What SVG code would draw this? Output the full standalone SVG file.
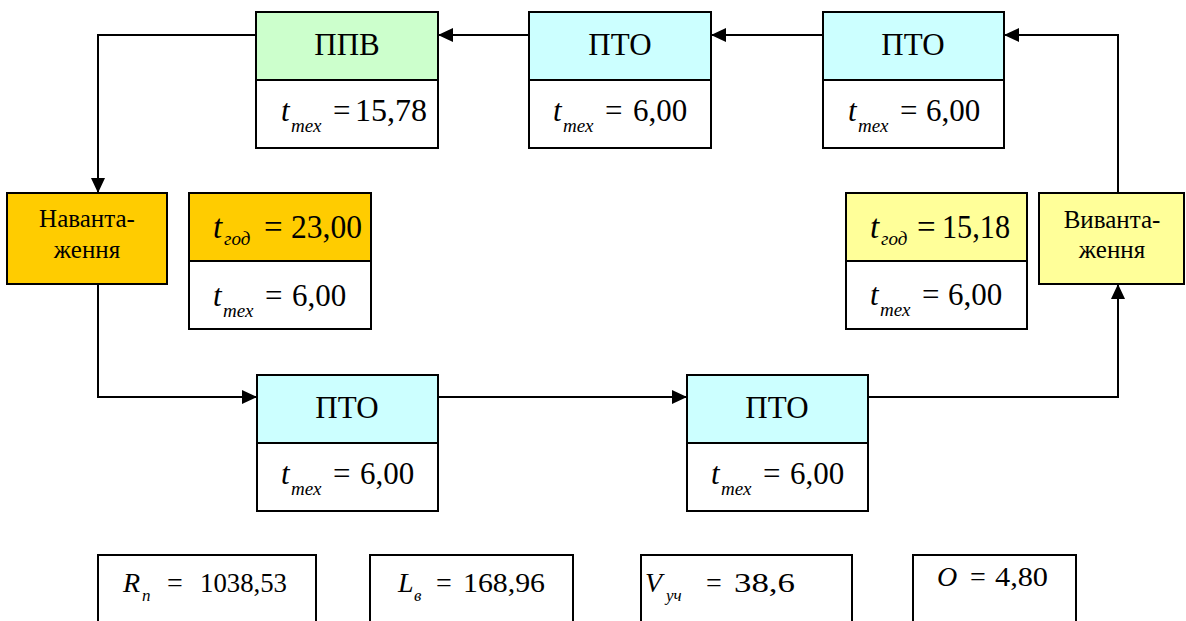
<svg xmlns="http://www.w3.org/2000/svg" width="1186" height="621" viewBox="0 0 1186 621">
<style>
.box{stroke:#000;stroke-width:2}
.w{fill:#fff}
.cy{fill:#CCFFFF}
.gr{fill:#CCFFCC}
.or{fill:#FFCC00}
.ye{fill:#FFFF99}
.con{fill:none;stroke:#000;stroke-width:2}
</style>
<defs>
<marker id="arr" markerWidth="15" markerHeight="14" refX="15" refY="7" orient="auto" markerUnits="userSpaceOnUse">
<path d="M0,0 L15,7 L0,14 z" fill="#000"/>
</marker>
</defs>
<g id="connectors">
<path class="con" d="M1118,193 V35 H1004" marker-end="url(#arr)"/>
<path class="con" d="M823,35 H711" marker-end="url(#arr)"/>
<path class="con" d="M529,35 H438" marker-end="url(#arr)"/>
<path class="con" d="M256,35 H98 V193" marker-end="url(#arr)"/>
<path class="con" d="M98,284 V397 H257" marker-end="url(#arr)"/>
<path class="con" d="M438,397 H687" marker-end="url(#arr)"/>
<path class="con" d="M868,397 H1118 V284" marker-end="url(#arr)"/>
</g>
<g id="ppv">
<rect class="box gr" x="256" y="12" width="182" height="68"/>
<rect class="box w" x="256" y="80" width="182" height="68"/>
<text font-family="Liberation Serif" font-size="31" text-anchor="middle" x="347" y="55">ППВ</text>
<text font-family="Liberation Serif" font-size="31" font-style="italic" x="281" y="121">t</text>
<text font-family="Liberation Serif" font-size="19" font-style="italic" x="291" y="132">тех</text>
<text font-family="Liberation Serif" font-size="31" x="333" y="121">=</text>
<text font-family="Liberation Serif" font-size="31" x="355" y="121" textLength="72" lengthAdjust="spacingAndGlyphs">15,78</text>
</g>
<g id="pto-top-mid">
<rect class="box cy" x="529" y="12" width="182" height="68"/>
<rect class="box w" x="529" y="80" width="182" height="68"/>
<text font-family="Liberation Serif" font-size="31" text-anchor="middle" x="620" y="55">ПТО</text>
<text font-family="Liberation Serif" font-size="31" font-style="italic" x="553" y="121">t</text>
<text font-family="Liberation Serif" font-size="19" font-style="italic" x="563" y="132">тех</text>
<text font-family="Liberation Serif" font-size="31" x="605" y="121">=</text>
<text font-family="Liberation Serif" font-size="31" x="633" y="121">6,00</text>
</g>
<g id="pto-top-right">
<rect class="box cy" x="823" y="12" width="181" height="68"/>
<rect class="box w" x="823" y="80" width="181" height="68"/>
<text font-family="Liberation Serif" font-size="31" text-anchor="middle" x="913" y="55">ПТО</text>
<text font-family="Liberation Serif" font-size="31" font-style="italic" x="848" y="121">t</text>
<text font-family="Liberation Serif" font-size="19" font-style="italic" x="858" y="132">тех</text>
<text font-family="Liberation Serif" font-size="31" x="900" y="121">=</text>
<text font-family="Liberation Serif" font-size="31" x="926" y="121">6,00</text>
</g>
<g id="loading">
<rect class="box or" x="7" y="193" width="160" height="91"/>
<text font-family="Liberation Serif" font-size="25" text-anchor="middle" x="87" y="227">Наванта-</text>
<text font-family="Liberation Serif" font-size="25" text-anchor="middle" x="87" y="258">ження</text>
</g>
<g id="tgod-left">
<rect class="box or" x="189" y="193" width="182" height="68"/>
<rect class="box w" x="189" y="261" width="182" height="68"/>
<text font-family="Liberation Serif" font-size="33" font-style="italic" x="213" y="238">t</text>
<text font-family="Liberation Serif" font-size="19" font-style="italic" x="224" y="245">год</text>
<text font-family="Liberation Serif" font-size="33" x="264" y="238">=</text>
<text font-family="Liberation Serif" font-size="33" x="291" y="238" textLength="71" lengthAdjust="spacingAndGlyphs">23,00</text>
<text font-family="Liberation Serif" font-size="31" font-style="italic" x="213" y="306">t</text>
<text font-family="Liberation Serif" font-size="19" font-style="italic" x="223" y="317">тех</text>
<text font-family="Liberation Serif" font-size="31" x="265" y="306">=</text>
<text font-family="Liberation Serif" font-size="31" x="292" y="306">6,00</text>
</g>
<g id="tgod-right">
<rect class="box ye" x="846" y="193" width="181" height="68"/>
<rect class="box w" x="846" y="261" width="181" height="68"/>
<text font-family="Liberation Serif" font-size="33" font-style="italic" x="870" y="238">t</text>
<text font-family="Liberation Serif" font-size="19" font-style="italic" x="881" y="245">год</text>
<text font-family="Liberation Serif" font-size="33" x="917" y="238">=</text>
<text font-family="Liberation Serif" font-size="33" x="942" y="238" textLength="68" lengthAdjust="spacingAndGlyphs">15,18</text>
<text font-family="Liberation Serif" font-size="31" font-style="italic" x="870" y="305">t</text>
<text font-family="Liberation Serif" font-size="19" font-style="italic" x="880" y="316">тех</text>
<text font-family="Liberation Serif" font-size="31" x="922" y="305">=</text>
<text font-family="Liberation Serif" font-size="31" x="948" y="305">6,00</text>
</g>
<g id="unloading">
<rect class="box ye" x="1039" y="193" width="145" height="91"/>
<text font-family="Liberation Serif" font-size="25" text-anchor="middle" x="1112" y="228">Виванта-</text>
<text font-family="Liberation Serif" font-size="25" text-anchor="middle" x="1112" y="258">ження</text>
</g>
<g id="pto-bot-left">
<rect class="box cy" x="257" y="375" width="181" height="68"/>
<rect class="box w" x="257" y="443" width="181" height="68"/>
<text font-family="Liberation Serif" font-size="31" text-anchor="middle" x="347" y="418">ПТО</text>
<text font-family="Liberation Serif" font-size="31" font-style="italic" x="281" y="484">t</text>
<text font-family="Liberation Serif" font-size="19" font-style="italic" x="291" y="495">тех</text>
<text font-family="Liberation Serif" font-size="31" x="333" y="484">=</text>
<text font-family="Liberation Serif" font-size="31" x="360" y="484">6,00</text>
</g>
<g id="pto-bot-right">
<rect class="box cy" x="687" y="375" width="181" height="68"/>
<rect class="box w" x="687" y="443" width="181" height="68"/>
<text font-family="Liberation Serif" font-size="31" text-anchor="middle" x="777" y="418">ПТО</text>
<text font-family="Liberation Serif" font-size="31" font-style="italic" x="711" y="484">t</text>
<text font-family="Liberation Serif" font-size="19" font-style="italic" x="721" y="495">тех</text>
<text font-family="Liberation Serif" font-size="31" x="763" y="484">=</text>
<text font-family="Liberation Serif" font-size="31" x="790" y="484">6,00</text>
</g>
<g id="r-n">
<rect class="box w" x="98" y="555" width="218" height="80"/>
<text font-family="Liberation Serif" font-size="28" font-style="italic" x="123" y="592">R</text>
<text font-family="Liberation Serif" font-size="17" font-style="italic" x="142" y="601">п</text>
<text font-family="Liberation Serif" font-size="28" x="167" y="592">=</text>
<text font-family="Liberation Serif" font-size="28" x="200" y="592" textLength="87" lengthAdjust="spacingAndGlyphs">1038,53</text>
</g>
<g id="l-v">
<rect class="box w" x="370" y="555" width="203" height="80"/>
<text font-family="Liberation Serif" font-size="28" font-style="italic" x="398" y="592">L</text>
<text font-family="Liberation Serif" font-size="17" font-style="italic" x="414" y="601">в</text>
<text font-family="Liberation Serif" font-size="28" x="436" y="592">=</text>
<text font-family="Liberation Serif" font-size="28" x="463" y="592" textLength="82" lengthAdjust="spacingAndGlyphs">168,96</text>
</g>
<g id="v-uch">
<rect class="box w" x="641" y="555" width="211" height="80"/>
<text font-family="Liberation Serif" font-size="28" font-style="italic" x="645" y="592">V</text>
<text font-family="Liberation Serif" font-size="17" font-style="italic" x="666" y="601">уч</text>
<text font-family="Liberation Serif" font-size="28" x="706" y="592">=</text>
<text font-family="Liberation Serif" font-size="28" x="734" y="592" textLength="61" lengthAdjust="spacingAndGlyphs">38,6</text>
</g>
<g id="o">
<rect class="box w" x="913" y="555" width="163" height="80"/>
<text font-family="Liberation Serif" font-size="28" font-style="italic" x="937" y="586">O</text>
<text font-family="Liberation Serif" font-size="28" x="970" y="586">=</text>
<text font-family="Liberation Serif" font-size="28" x="995" y="586" textLength="53" lengthAdjust="spacingAndGlyphs">4,80</text>
</g>
</svg>
